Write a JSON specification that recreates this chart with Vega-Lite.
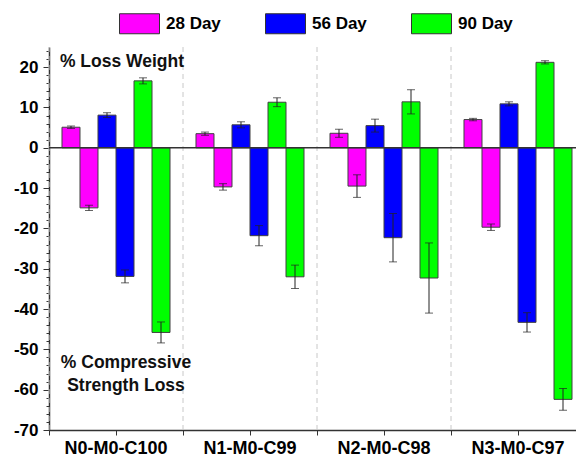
{
  "$schema": "https://vega.github.io/schema/vega-lite/v6.json",
  "width": 527,
  "height": 383,
  "autosize": {"type": "none"},
  "padding": {"left": 49, "top": 47, "right": 0, "bottom": 26},
  "background": "white",
  "config": {
    "view": {"stroke": null},
    "font": "Liberation Sans",
    "axis": {"grid": false}
  },
  "resolve": {"axis": {"x": "independent", "y": "independent"}},
  "datasets": {
    "bars": [
      {"group": "N0-M0-C100", "bar": "28W", "series": "28 Day", "value": 5.1, "lo": 4.8, "hi": 5.4},
      {"group": "N0-M0-C100", "bar": "28S", "series": "28 Day", "value": -14.9, "lo": -15.55, "hi": -14.25},
      {"group": "N0-M0-C100", "bar": "56W", "series": "56 Day", "value": 8.1, "lo": 7.5, "hi": 8.7},
      {"group": "N0-M0-C100", "bar": "56S", "series": "56 Day", "value": -31.9, "lo": -33.5, "hi": -30.3},
      {"group": "N0-M0-C100", "bar": "90W", "series": "90 Day", "value": 16.6, "lo": 15.85, "hi": 17.35},
      {"group": "N0-M0-C100", "bar": "90S", "series": "90 Day", "value": -45.8, "lo": -48.4, "hi": -43.2},
      {"group": "N1-M0-C99", "bar": "28W", "series": "28 Day", "value": 3.5, "lo": 3.1, "hi": 3.9},
      {"group": "N1-M0-C99", "bar": "28S", "series": "28 Day", "value": -9.7, "lo": -10.5, "hi": -8.9},
      {"group": "N1-M0-C99", "bar": "56W", "series": "56 Day", "value": 5.7, "lo": 4.95, "hi": 6.45},
      {"group": "N1-M0-C99", "bar": "56S", "series": "56 Day", "value": -21.8, "lo": -24.3, "hi": -19.3},
      {"group": "N1-M0-C99", "bar": "90W", "series": "90 Day", "value": 11.3, "lo": 10.2, "hi": 12.4},
      {"group": "N1-M0-C99", "bar": "90S", "series": "90 Day", "value": -32.0, "lo": -34.9, "hi": -29.1},
      {"group": "N2-M0-C98", "bar": "28W", "series": "28 Day", "value": 3.6, "lo": 2.6, "hi": 4.6},
      {"group": "N2-M0-C98", "bar": "28S", "series": "28 Day", "value": -9.5, "lo": -12.3, "hi": -6.7},
      {"group": "N2-M0-C98", "bar": "56W", "series": "56 Day", "value": 5.5, "lo": 3.9, "hi": 7.1},
      {"group": "N2-M0-C98", "bar": "56S", "series": "56 Day", "value": -22.3, "lo": -28.3, "hi": -16.3},
      {"group": "N2-M0-C98", "bar": "90W", "series": "90 Day", "value": 11.4, "lo": 8.4, "hi": 14.4},
      {"group": "N2-M0-C98", "bar": "90S", "series": "90 Day", "value": -32.3, "lo": -41.0, "hi": -23.6},
      {"group": "N3-M0-C97", "bar": "28W", "series": "28 Day", "value": 7.0, "lo": 6.7, "hi": 7.3},
      {"group": "N3-M0-C97", "bar": "28S", "series": "28 Day", "value": -19.7, "lo": -20.5, "hi": -18.9},
      {"group": "N3-M0-C97", "bar": "56W", "series": "56 Day", "value": 10.9, "lo": 10.4, "hi": 11.4},
      {"group": "N3-M0-C97", "bar": "56S", "series": "56 Day", "value": -43.3, "lo": -45.7, "hi": -40.9},
      {"group": "N3-M0-C97", "bar": "90W", "series": "90 Day", "value": 21.2, "lo": 20.8, "hi": 21.6},
      {"group": "N3-M0-C97", "bar": "90S", "series": "90 Day", "value": -62.4, "lo": -65.1, "hi": -59.7}
    ],
    "seps": [
      {"group": "N0-M0-C100"},
      {"group": "N1-M0-C99"},
      {"group": "N2-M0-C98"},
      {"group": "N3-M0-C97"}
    ],
    "note1": [
      {"group": "N0-M0-C100", "y": 21.4, "label": "% Loss Weight"}
    ],
    "note2": [
      {"group": "N0-M0-C100", "y": -53.5, "label": "% Compressive"},
      {"group": "N0-M0-C100", "y": -59.1, "label": "Strength Loss"}
    ]
  },
  "layer": [
    {
      "data": {"name": "seps"},
      "mark": {"type": "rule", "strokeDash": [5, 4], "color": "#c8c8c8", "strokeWidth": 1},
      "encoding": {
        "x": {"field": "group", "type": "nominal", "bandPosition": 0,
          "scale": {"domain": ["N0-M0-C100", "N1-M0-C99", "N2-M0-C98", "N3-M0-C97"], "range": [0, 536], "paddingInner": 0, "paddingOuter": 0},
          "axis": {"orient": "bottom", "title": null, "labels": false, "domain": false, "bandPosition": 0, "tickSize": 5, "tickColor": "#333", "tickWidth": 1}}
      }
    },
    {
      "data": {"name": "bars"},
      "mark": {"type": "bar", "stroke": "#404040", "strokeWidth": 1},
      "encoding": {
        "x": {"field": "group", "type": "nominal",
          "scale": {"domain": ["N0-M0-C100", "N1-M0-C99", "N2-M0-C98", "N3-M0-C97"], "range": [0, 536], "paddingInner": 0, "paddingOuter": 0},
          "axis": {"orient": "bottom", "title": null, "labelAngle": 0, "labelAlign": "center", "labelBaseline": "top", "labelFontSize": 18, "labelFontWeight": "bold", "labelColor": "#000", "tickSize": 5, "tickColor": "#333", "domainColor": "#333", "domainWidth": 1.5, "labelPadding": 4}},
        "xOffset": {"field": "bar", "type": "nominal",
          "scale": {"domain": ["28W", "28S", "56W", "56S", "90W", "90S"], "paddingInner": 0, "paddingOuter": 0.722}},
        "y": {"field": "value", "type": "quantitative",
          "scale": {"domain": [-70, 25], "nice": false},
          "axis": {"orient": "left", "title": null,
            "values": [-70, -60, -50, -40, -30, -20, -10, 0, 10, 20],
            "labelExpr": "toString(datum.value)",
            "labelFontSize": 17, "labelFontWeight": "bold", "labelColor": "#000",
            "tickSize": 6, "tickColor": "#333", "domainColor": "#333", "domainWidth": 1.5, "labelPadding": 5}},
        "color": {"field": "series", "type": "nominal",
          "scale": {"domain": ["28 Day", "56 Day", "90 Day"], "range": ["#ff00ff", "#0000ff", "#00ff00"]},
          "legend": {"title": null, "orient": "none", "direction": "horizontal", "legendX": 80, "legendY": -34,
            "symbolType": "M-2,-1H2V1H-2Z", "symbolSize": 400, "symbolStrokeColor": "#333", "symbolStrokeWidth": 1, "symbolOpacity": 1,
            "labelFontSize": 17, "labelFontWeight": "bold", "labelColor": "#000", "labelOffset": 16, "columnPadding": 42, "padding": 0}}
      }
    },
    {
      "data": {"values": [{}]},
      "mark": {"type": "rule", "color": "#333", "strokeWidth": 1.5},
      "encoding": {
        "y": {"datum": 0, "type": "quantitative",
          "axis": {"orient": "left", "title": null, "labels": false, "domain": false,
            "values": [-70, -68, -66, -64, -62, -60, -58, -56, -54, -52, -50, -48, -46, -44, -42, -40, -38, -36, -34, -32, -30, -28, -26, -24, -22, -20, -18, -16, -14, -12, -10, -8, -6, -4, -2, 0, 2, 4, 6, 8, 10, 12, 14, 16, 18, 20, 22, 24],
            "tickSize": 3, "tickColor": "#333", "tickWidth": 1}}
      }
    },
    {
      "data": {"name": "bars"},
      "mark": {"type": "rule", "color": "#222", "strokeWidth": 1},
      "encoding": {
        "x": {"field": "group", "type": "nominal", "axis": null},
        "xOffset": {"field": "bar", "type": "nominal"},
        "y": {"field": "lo", "type": "quantitative", "axis": null},
        "y2": {"field": "hi"}
      }
    },
    {
      "data": {"name": "bars"},
      "mark": {"type": "tick", "color": "#222", "thickness": 1, "size": 8},
      "encoding": {
        "x": {"field": "group", "type": "nominal", "axis": null},
        "xOffset": {"field": "bar", "type": "nominal"},
        "y": {"field": "lo", "type": "quantitative", "axis": null}
      }
    },
    {
      "data": {"name": "bars"},
      "mark": {"type": "tick", "color": "#222", "thickness": 1, "size": 8},
      "encoding": {
        "x": {"field": "group", "type": "nominal", "axis": null},
        "xOffset": {"field": "bar", "type": "nominal"},
        "y": {"field": "hi", "type": "quantitative", "axis": null}
      }
    },
    {
      "data": {"name": "note1"},
      "mark": {"type": "text", "fontSize": 17.5, "fontWeight": "bold", "color": "#111", "align": "center", "baseline": "middle", "dx": 6},
      "encoding": {
        "x": {"field": "group", "type": "nominal", "axis": null},
        "y": {"field": "y", "type": "quantitative", "axis": null},
        "text": {"field": "label"}
      }
    },
    {
      "data": {"name": "note2"},
      "mark": {"type": "text", "fontSize": 17.5, "fontWeight": "bold", "color": "#111", "align": "center", "baseline": "middle", "dx": 10},
      "encoding": {
        "x": {"field": "group", "type": "nominal", "axis": null},
        "y": {"field": "y", "type": "quantitative", "axis": null},
        "text": {"field": "label"}
      }
    }
  ]
}
